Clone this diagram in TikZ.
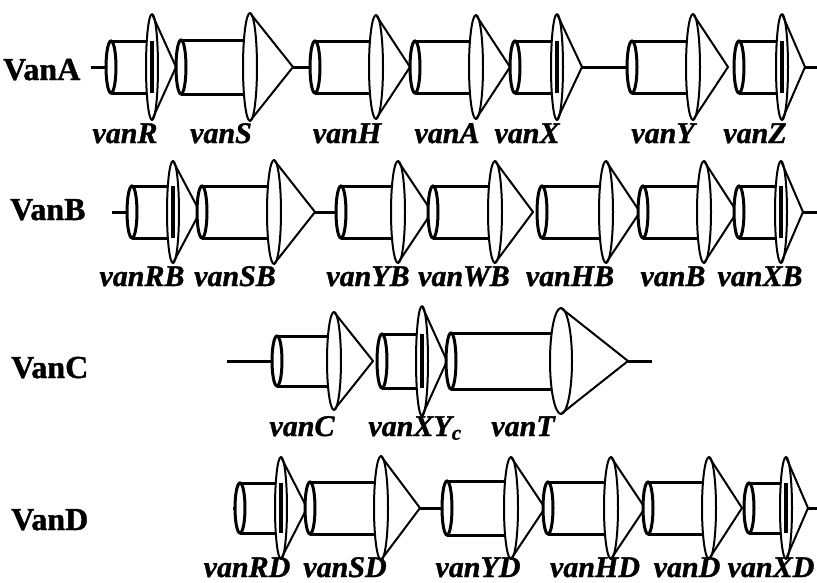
\documentclass[tikz,border=0pt]{standalone}
\usepackage{fontspec}
\setmainfont{Liberation Serif}
\newfontfamily\heavyfont[FakeBold=1.2]{Liberation Serif}
\tikzset{
  cyl/.style={line width=3pt},
  conestyle/.style={line width=2pt, line join=round},
  link/.style={line width=3pt},
  endline/.style={line width=3.2pt},
  genelabel/.style={anchor=base, inner sep=0pt, font=\heavyfont\fontsize{30}{30}\selectfont\bfseries\itshape},
  rowlabel/.style={anchor=base west, inner sep=0pt, font=\heavyfont\fontsize{32}{32}\selectfont\bfseries},
}
% name, x0 (left end), x1 (cone base), x2 (tip), cy, h, H, rX
\newcommand\genearrow[8]{%
  \coordinate (#1-l) at ({#2-5},#5);
  \coordinate (#1-t) at (#4,#5);
  \coordinate (#1-b) at (#3,#5);
  \fill[white] (#2,{#5-#6}) rectangle (#3,{#5+#6});
  \draw[cyl] (#2,{#5+#6}) -- (#3,{#5+#6}) (#2,{#5-#6}) -- (#3,{#5-#6});
  \draw[cyl,fill=white] (#2,#5) ellipse [x radius=5, y radius=#6];
  \fill[white] (#3,{#5+#7}) -- (#4,#5) -- (#3,{#5-#7})
     arc[start angle=270, end angle=90, x radius=#8, y radius=#7] -- cycle;
  \draw[conestyle] (#3,{#5+#7}) -- (#4,#5) -- (#3,{#5-#7});
  \draw[conestyle] (#3,#5) ellipse [x radius=#8, y radius=#7];
}
\newcommand\geneend[3]{% x1, cy, h : dark cylinder end seen through the cone base
  \draw[endline] (#1,{#2-#3}) -- (#1,{#2+#3});
}
\begin{document}
\begin{tikzpicture}[x=1pt,y=1pt]
\useasboundingbox (0,0) rectangle (817,-582);

% ---------- VanA ----------
\node[rowlabel] (rowA) at (3,-80) {VanA};
\genearrow{vanR}{111}{152}{176}{-67}{26}{53}{6}
\geneend{152}{-67}{26}
\genearrow{vanS}{181}{250}{293}{-67}{27}{54}{7}
\genearrow{vanH}{315}{376}{410}{-67}{26}{52}{7}
\genearrow{vanA}{415}{476}{510}{-67}{26}{52}{7}
\genearrow{vanX}{515}{557}{582}{-67}{26}{53}{6}
\geneend{557}{-67}{26}
\genearrow{vanY}{632}{693}{728}{-67}{26}{53}{7}
\genearrow{vanZ}{739}{782}{805}{-67}{26}{53}{6}
\geneend{782}{-67}{26}
\coordinate (A0) at (91,-67);
\coordinate (A1) at (817,-67);
\draw[link] (A0) -- (vanR-l);
\draw[link] (vanS-t) -- (vanH-l);
\draw[link] (vanX-t) -- (vanY-l);
\draw[link] (vanZ-t) -- (A1);
\node[genelabel] (lvanR) at (125,-143) {vanR};
\node[genelabel] (lvanS) at (221,-143) {vanS};
\node[genelabel] (lvanH) at (347,-143) {vanH};
\node[genelabel] (lvanA) at (447,-143) {vanA};
\node[genelabel] (lvanX) at (527,-143) {vanX};
\node[genelabel] (lvanY) at (663,-143) {vanY};
\node[genelabel] (lvanZ) at (755,-143) {vanZ};

% ---------- VanB ----------
\node[rowlabel] (rowB) at (10,-220) {VanB};
\genearrow{vanRB}{132}{173}{200}{-212}{26}{51}{6}
\geneend{173}{-212}{26}
\genearrow{vanSB}{202}{274}{315}{-212}{26}{52}{7}
\genearrow{vanYB}{341}{398}{432}{-212}{26}{51}{7}
\genearrow{vanWB}{433}{495}{533}{-212}{26}{51}{7}
\genearrow{vanHB}{542}{606}{640}{-212}{26}{51}{7}
\genearrow{vanB}{643}{704}{737}{-212}{26}{51}{7}
\genearrow{vanXB}{739}{781}{803}{-212}{26}{51}{6}
\geneend{781}{-212}{26}
\coordinate (B0) at (112,-212);
\coordinate (B1) at (817,-212);
\draw[link] (B0) -- (vanRB-l);
\draw[link] (vanSB-t) -- (vanYB-l);
\draw[link] (vanXB-t) -- (B1);
\node[genelabel] (lvanRB) at (142,-286) {vanRB};
\node[genelabel] (lvanSB) at (235,-286) {vanSB};
\node[genelabel] (lvanYB) at (368,-286) {vanYB};
\node[genelabel] (lvanWB) at (464,-286) {vanWB};
\node[genelabel] (lvanHB) at (570,-286) {vanHB};
\node[genelabel] (lvanB) at (673,-286) {vanB};
\node[genelabel] (lvanXB) at (760,-286) {vanXB};

% ---------- VanC ----------
\node[rowlabel] (rowC) at (11,-378) {VanC};
\genearrow{vanC}{277}{334}{373}{-361}{25}{49}{7}
\genearrow{vanXYc}{382}{422}{447}{-361}{27}{55}{6}
\geneend{422}{-361}{27}
\genearrow{vanT}{451}{561}{628}{-361}{28}{53}{11}
\coordinate (C0) at (227,-361);
\coordinate (C1) at (652,-361);
\draw[link] (C0) -- (vanC-l);
\draw[link] (vanT-t) -- (C1);
\node[genelabel] (lvanC) at (302,-436) {vanC};
\node[genelabel] (lvanXYc) at (415,-436) {vanXY\textsubscript{c}};
\node[genelabel] (lvanT) at (523,-436) {vanT};

% ---------- VanD ----------
\node[rowlabel] (rowD) at (11,-530) {VanD};
\genearrow{vanRD}{240}{281}{307}{-508}{25}{51}{6}
\geneend{281}{-508}{25}
\genearrow{vanSD}{310}{381}{420}{-508}{26}{52}{7}
\genearrow{vanYD}{447}{511}{545}{-508}{27}{51}{7}
\genearrow{vanHD}{548}{611}{645}{-508}{26}{51}{7}
\genearrow{vanD}{648}{709}{742}{-508}{26}{51}{7}
\genearrow{vanXD}{749}{786}{808}{-508}{25}{51}{6}
\geneend{786}{-508}{25}
\coordinate (D0) at (233,-508);
\coordinate (D1) at (817,-508);
\draw[link] (D0) -- (vanRD-l);
\draw[link] (vanSD-t) -- (vanYD-l);
\draw[link] (vanXD-t) -- (D1);
\node[genelabel] (lvanRD) at (247,-577) {vanRD};
\node[genelabel] (lvanSD) at (345,-577) {vanSD};
\node[genelabel] (lvanYD) at (478,-577) {vanYD};
\node[genelabel] (lvanHD) at (595,-577) {vanHD};
\node[genelabel] (lvanD) at (687,-577) {vanD};
\node[genelabel] (lvanXD) at (771,-577) {vanXD};
\end{tikzpicture}
\end{document}
